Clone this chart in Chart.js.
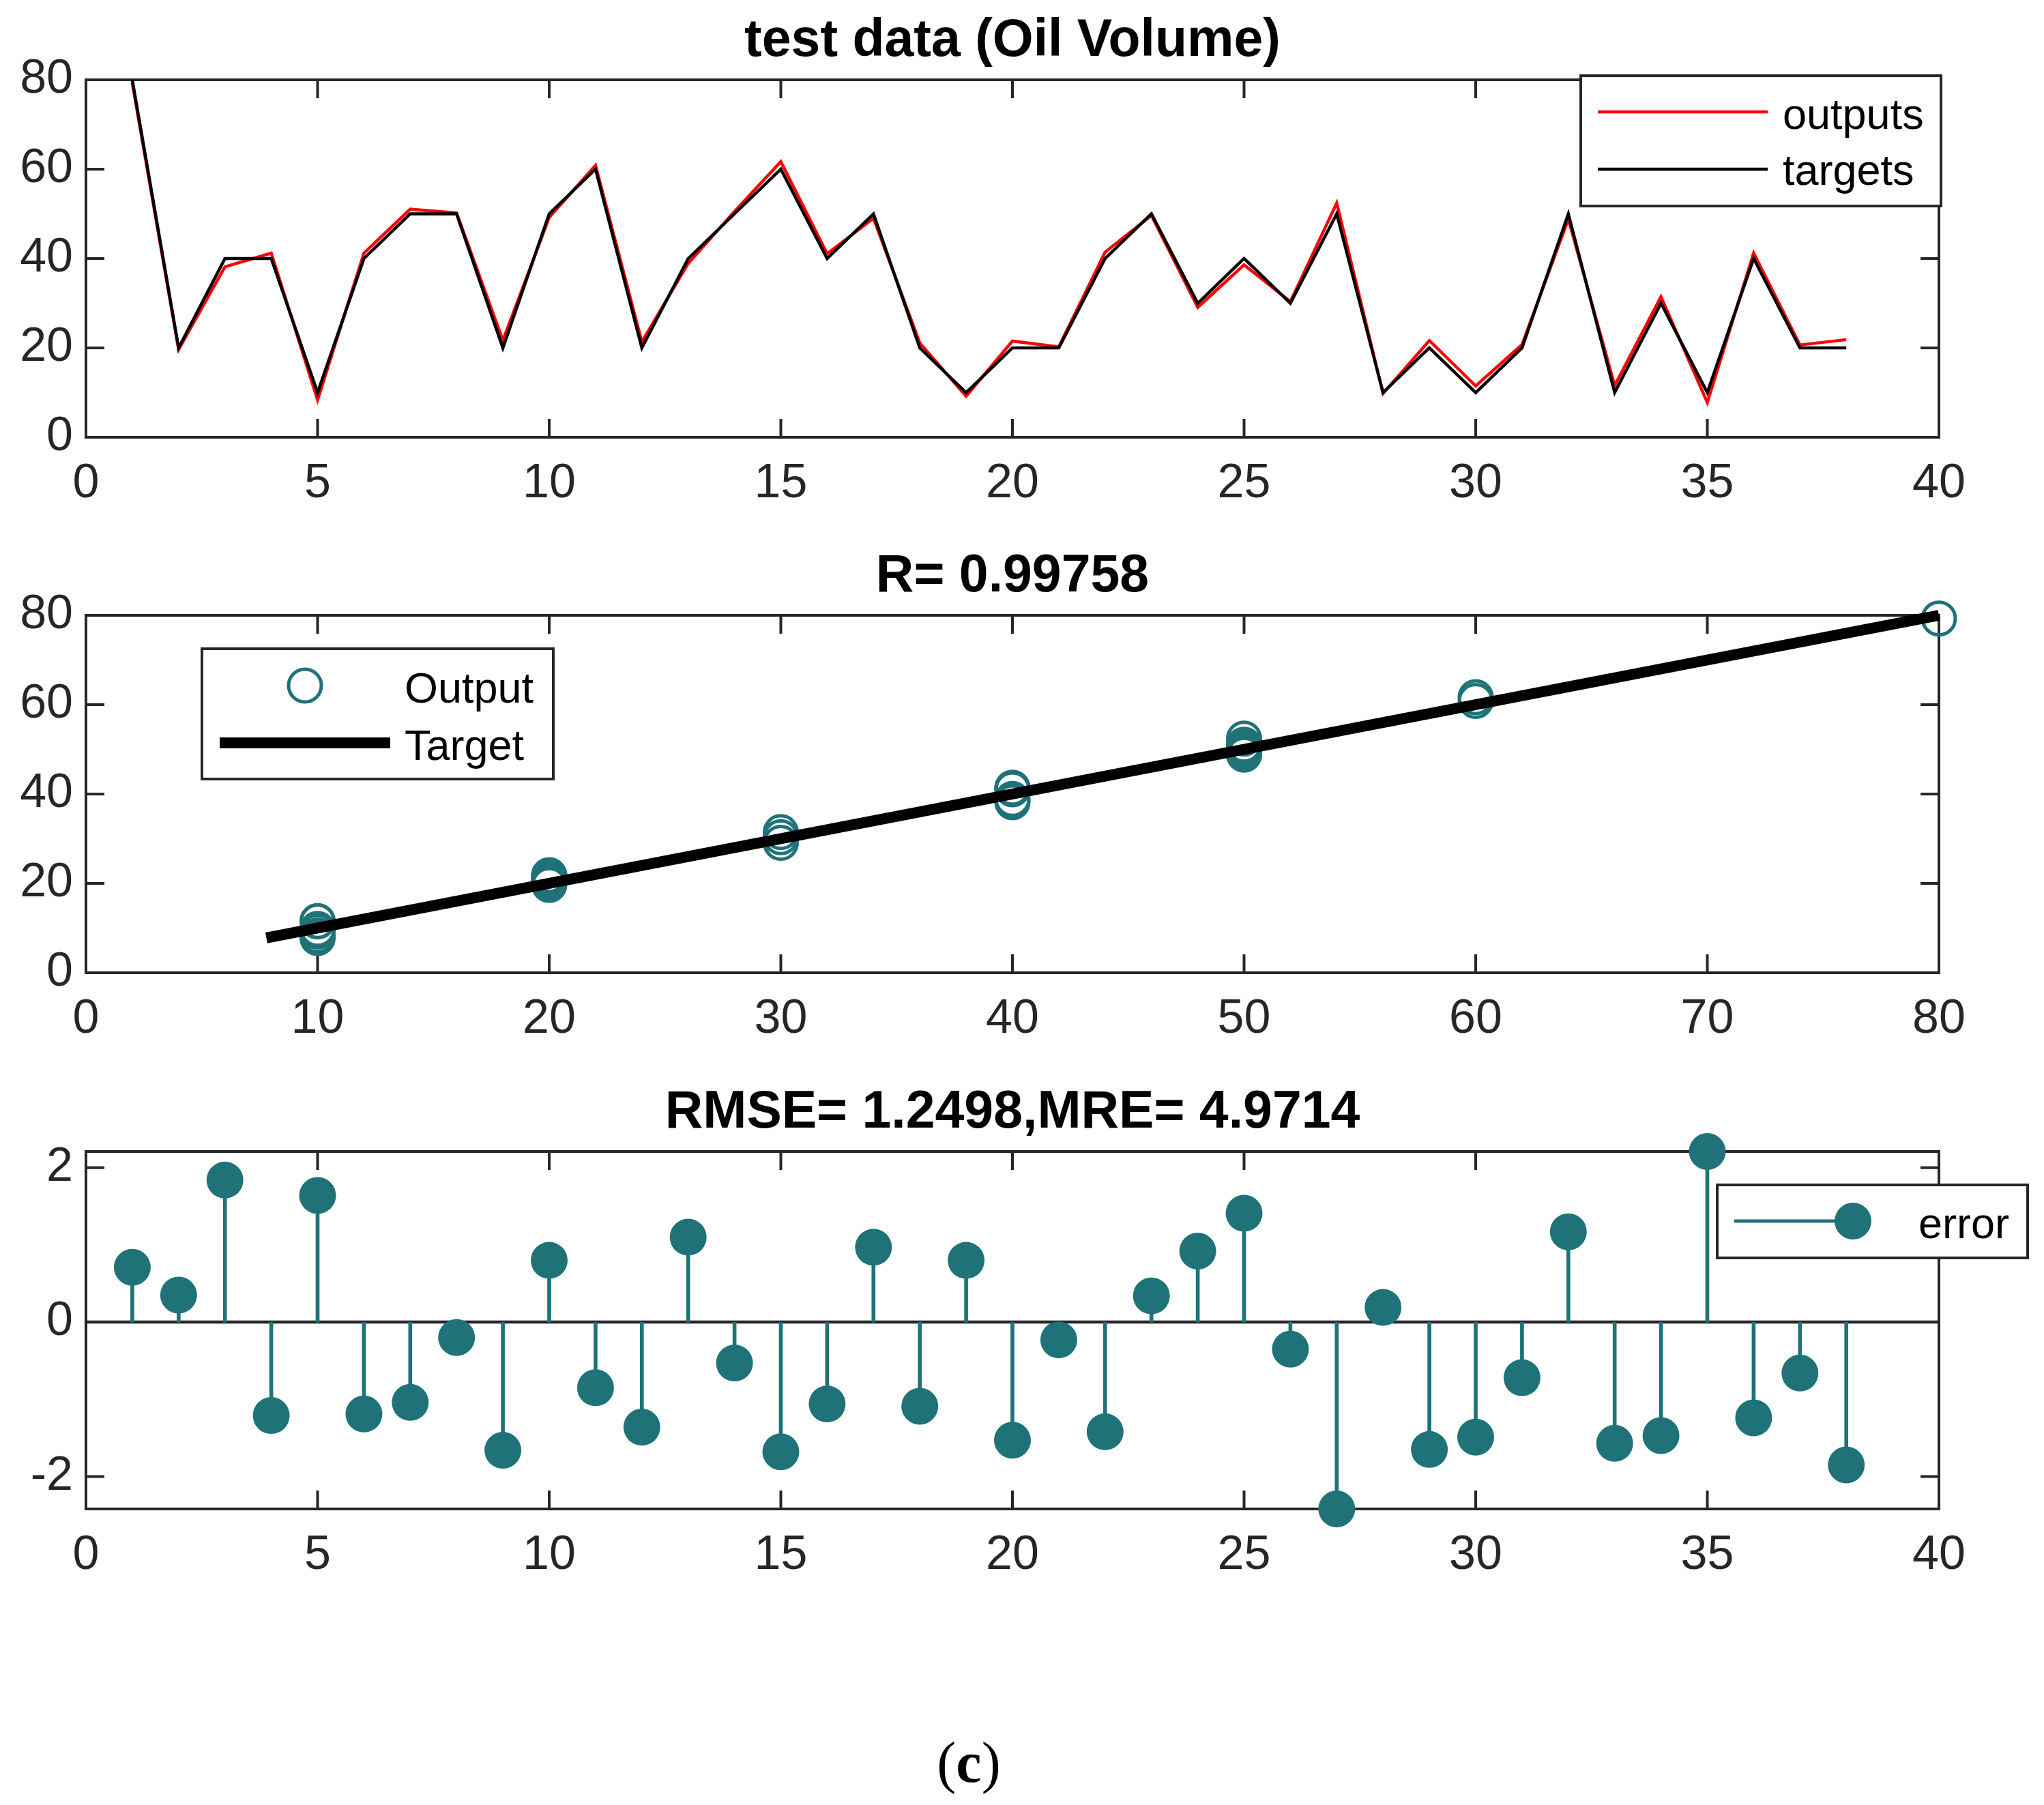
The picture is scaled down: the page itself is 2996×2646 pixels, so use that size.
<!DOCTYPE html>
<html>
<head>
<meta charset="utf-8">
<script src="https://cdn.jsdelivr.net/npm/chart.js@4.4.1/dist/chart.umd.min.js"></script>
<style>
html,body{margin:0;padding:0;background:#fff;}
body{width:2996px;height:2646px;position:relative;overflow:hidden;}
canvas{position:absolute;left:0;}
#cap{position:absolute;left:1220px;width:400px;top:2541px;text-align:center;font-family:"Liberation Serif","Times New Roman",serif;font-size:84px;line-height:85px;color:#000;}
</style>
</head>
<body>
<canvas id="c1" width="2996" height="771" style="top:0px;width:2996px;height:771px"></canvas>
<canvas id="c2" width="2996" height="771" style="top:785px;width:2996px;height:771px"></canvas>
<canvas id="c3" width="2996" height="771" style="top:1571px;width:2996px;height:771px"></canvas>
<div id="cap">(<b>c</b>)</div>
<script>
// ---------------- data ----------------
const sampleIdx = [1,2,3,4,5,6,7,8,9,10,11,12,13,14,15,16,17,18,19,20,21,22,23,24,25,26,27,28,29,30,31,32,33,34,35,36,37,38];
const targets = [80,20,40,40,10,40,50,50,20,50,60,20,40,50,60,40,50,20,10,20,20,40,50,30,40,30,50,10,20,10,20,50,10,30,10,40,20,20];
const outputs = [79.29,19.65,38.16,41.21,8.36,41.19,51.04,50.20,21.66,49.20,60.85,21.36,38.90,50.53,61.68,41.06,49.03,21.09,9.20,21.53,20.23,41.42,49.66,29.08,38.59,30.35,52.42,9.81,21.65,11.49,20.72,48.83,11.57,31.47,7.79,41.24,20.66,21.85];
const errors = [0.71,0.35,1.84,-1.21,1.64,-1.19,-1.04,-0.20,-1.66,0.80,-0.85,-1.36,1.10,-0.53,-1.68,-1.06,0.97,-1.09,0.80,-1.53,-0.23,-1.42,0.34,0.92,1.41,-0.35,-2.42,0.19,-1.65,-1.49,-0.72,1.17,-1.57,-1.47,2.21,-1.24,-0.66,-1.85];

const topXTicks = [0,5,10,15,20,25,30,35,40];
const topYTicks = [0,20,40,60,80];
const midXTicks = [0,10,20,30,40,50,60,70,80];
const midYTicks = [0,20,40,60,80];
const errXTicks = [0,5,10,15,20,25,30,35,40];
const errYTicks = [-2,0,2];

const titleTop = 'test data (Oil Volume)';
const titleMid = 'R= 0.99758';
const titleErr = 'RMSE= 1.2498,MRE= 4.9714';

// ---------------- styles ----------------
const FONT = '"Liberation Sans", Arial, Helvetica, sans-serif';
const AX = '#262626';
const TEAL = '#1f7378';
const TL = 27;

const axesPlugin = {
  id: 'matlabAxes',
  beforeDatasetsDraw(chart) {
    const ctx = chart.ctx, a = chart.chartArea, x = chart.scales.x, y = chart.scales.y;
    ctx.save();
    ctx.strokeStyle = AX; ctx.lineWidth = 4; ctx.lineCap = 'butt';
    ctx.beginPath();
    x.ticks.forEach(t => {
      const p = x.getPixelForValue(t.value);
      ctx.moveTo(p, a.bottom); ctx.lineTo(p, a.bottom - TL);
      ctx.moveTo(p, a.top); ctx.lineTo(p, a.top + TL);
    });
    y.ticks.forEach(t => {
      const p = y.getPixelForValue(t.value);
      ctx.moveTo(a.left, p); ctx.lineTo(a.left + TL, p);
      ctx.moveTo(a.right, p); ctx.lineTo(a.right - TL, p);
    });
    ctx.stroke();
    ctx.strokeRect(a.left, a.top, a.right - a.left, a.bottom - a.top);
    ctx.restore();
  }
};

function makeLegend(spec) {
  return {
    id: 'boxLegend',
    afterDraw(chart) {
      const ctx = chart.ctx;
      const [x1, y1, x2, y2] = spec.box;
      ctx.save();
      ctx.fillStyle = '#fff'; ctx.fillRect(x1, y1, x2 - x1, y2 - y1);
      ctx.strokeStyle = AX; ctx.lineWidth = 4; ctx.strokeRect(x1, y1, x2 - x1, y2 - y1);
      spec.items.forEach(it => {
        if (it.kind === 'line') {
          ctx.strokeStyle = it.color; ctx.lineWidth = it.w; ctx.lineCap = 'butt';
          ctx.beginPath(); ctx.moveTo(it.x1, it.y); ctx.lineTo(it.x2, it.y); ctx.stroke();
        } else if (it.kind === 'circle') {
          ctx.beginPath(); ctx.arc(it.cx, it.cy, it.r, 0, Math.PI * 2);
          if (it.fill) { ctx.fillStyle = it.fill; ctx.fill(); }
          if (it.stroke) { ctx.strokeStyle = it.stroke; ctx.lineWidth = it.w; ctx.stroke(); }
        } else if (it.kind === 'text') {
          ctx.fillStyle = '#000'; ctx.font = '63px ' + FONT;
          ctx.textAlign = 'left'; ctx.textBaseline = 'alphabetic';
          ctx.fillText(it.str, it.x, it.y);
        }
      });
      ctx.restore();
    }
  };
}

function axis(minV, maxV, ticks, isX) {
  return {
    type: 'linear', min: minV, max: maxV, offset: false,
    grid: { display: false, drawTicks: false, offset: false },
    border: { display: false },
    afterBuildTicks: s => { s.ticks = ticks.map(v => ({ value: v })); },
    afterFit: s => { if (isX) s.height = 130; else s.width = 126; },
    ticks: {
      padding: isX ? 27 : 19, color: AX, autoSkip: false, maxRotation: 0, minRotation: 0,
      font: { family: FONT, size: 70 },
      callback: v => String(v)
    }
  };
}

function baseOptions(title, xs, ys) {
  return {
    responsive: false, animation: false, devicePixelRatio: 1, events: [],
    layout: { padding: { left: 0, right: 154, top: 0, bottom: 0 } },
    scales: { x: xs, y: ys },
    plugins: {
      legend: { display: false }, tooltip: { enabled: false },
      title: {
        display: true, text: title, fullSize: false, color: '#000',
        font: { family: FONT, size: 77, weight: 'bold', lineHeight: 1 },
        padding: { top: 22, bottom: 18 }
      }
    }
  };
}

// ---------------- chart 1: time series ----------------
new Chart(document.getElementById('c1'), {
  type: 'scatter',
  data: {
    datasets: [
      { label: 'targets', data: sampleIdx.map((x, i) => ({ x, y: targets[i] })), showLine: true,
        borderColor: '#000000', borderWidth: 4.5, pointRadius: 0, tension: 0, order: 0, clip: false },
      { label: 'outputs', data: sampleIdx.map((x, i) => ({ x, y: outputs[i] })), showLine: true,
        borderColor: '#ff0000', borderWidth: 4.5, pointRadius: 0, tension: 0, order: 1, clip: false }
    ]
  },
  options: baseOptions(titleTop,
    axis(topXTicks[0], topXTicks[topXTicks.length - 1], topXTicks, true),
    axis(topYTicks[0], topYTicks[topYTicks.length - 1], topYTicks, false)),
  plugins: [axesPlugin, makeLegend({
    box: [2317, 111, 2845, 302],
    items: [
      { kind: 'line', x1: 2342, x2: 2591, y: 164, color: '#ff0000', w: 4.5 },
      { kind: 'text', x: 2613, y: 189, str: 'outputs' },
      { kind: 'line', x1: 2342, x2: 2591, y: 248, color: '#000000', w: 4.5 },
      { kind: 'text', x: 2613, y: 271, str: 'targets' }
    ]
  })]
});

// ---------------- chart 2: regression ----------------
const allVals = targets.concat(outputs);
const fitLo = Math.min(...allVals), fitHi = Math.max(...allVals);
new Chart(document.getElementById('c2'), {
  type: 'scatter',
  data: {
    datasets: [
      { label: 'Target', data: [{ x: fitLo, y: fitLo }, { x: fitHi, y: fitHi }], showLine: true,
        borderColor: '#000', borderWidth: 16, borderCapStyle: 'butt', pointRadius: 0, order: 0, clip: false },
      { label: 'Output', data: targets.map((t, i) => ({ x: t, y: outputs[i] })),
        pointRadius: 24, pointBorderWidth: 5, pointBorderColor: TEAL, pointBackgroundColor: 'rgba(0,0,0,0)',
        showLine: false, order: 1, clip: false }
    ]
  },
  options: baseOptions(titleMid,
    axis(midXTicks[0], midXTicks[midXTicks.length - 1], midXTicks, true),
    axis(midYTicks[0], midYTicks[midYTicks.length - 1], midYTicks, false)),
  plugins: [axesPlugin, makeLegend({
    box: [296, 166, 811, 357],
    items: [
      { kind: 'circle', cx: 447, cy: 220, r: 24, stroke: TEAL, w: 5 },
      { kind: 'text', x: 593, y: 245, str: 'Output' },
      { kind: 'line', x1: 322, x2: 572, y: 304, color: '#000', w: 16 },
      { kind: 'text', x: 593, y: 329, str: 'Target' }
    ]
  })]
});

// ---------------- chart 3: error stems ----------------
const errMin = Math.min(...errors), errMax = Math.max(...errors);
new Chart(document.getElementById('c3'), {
  type: 'scatter',
  data: {
    datasets: [
      { type: 'scatter', label: 'error', data: sampleIdx.map((x, i) => ({ x, y: errors[i] })),
        pointRadius: 27, pointBorderWidth: 0, pointBackgroundColor: TEAL, pointBorderColor: TEAL,
        showLine: false, order: 0, clip: false },
      { type: 'bar', label: 'stems', data: sampleIdx.map((x, i) => ({ x, y: [0, errors[i]] })),
        backgroundColor: TEAL, borderWidth: 0, barThickness: 5, order: 1 },
      { type: 'scatter', label: 'baseline',
        data: [{ x: errXTicks[0], y: 0 }, { x: errXTicks[errXTicks.length - 1], y: 0 }],
        showLine: true, borderColor: AX, borderWidth: 4.5, pointRadius: 0, order: 2 }
    ]
  },
  options: baseOptions(titleErr,
    axis(errXTicks[0], errXTicks[errXTicks.length - 1], errXTicks, true),
    axis(errMin, errMax, errYTicks, false)),
  plugins: [axesPlugin, makeLegend({
    box: [2517, 166, 2972, 273],
    items: [
      { kind: 'line', x1: 2542, x2: 2716, y: 219, color: TEAL, w: 5 },
      { kind: 'circle', cx: 2716, cy: 219, r: 27, fill: TEAL },
      { kind: 'text', x: 2812, y: 244, str: 'error' }
    ]
  })]
});
</script>
</body>
</html>
